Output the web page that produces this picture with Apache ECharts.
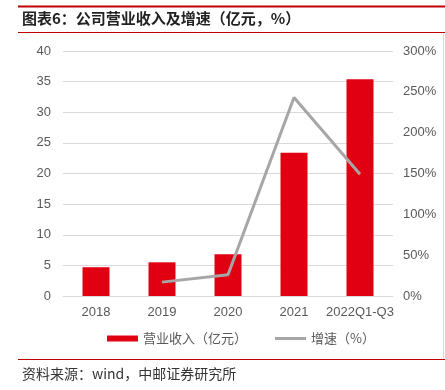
<!DOCTYPE html>
<html><head><meta charset="utf-8">
<script src="https://cdn.jsdelivr.net/npm/echarts@6/dist/echarts.min.js"></script>
<style>html,body{margin:0;padding:0;background:#fff}#c{width:445px;height:390px}</style>
</head><body><div id="c"></div>
<script>
const categories = ['2018','2019','2020','2021','2022Q1-Q3'];
const revenue = [4.7, 5.5, 6.8, 23.4, 35.4];
const growth = [null, 17, 26, 243, 149];
const leftTicks = [0, 40, 5];
const rightTicks = [0, 300, 50];

const chart = echarts.init(document.getElementById('c'), null, {renderer:'canvas'});
const txt = '#595959';
const lab = {color: txt, fontSize: 13, fontFamily: 'Liberation Sans, Arial, sans-serif'};
chart.setOption({
  animation: false,
  backgroundColor: '#fff',
  textStyle: {fontFamily: 'Liberation Sans, Noto Sans CJK SC, sans-serif'},
  graphic: [
    {type:'line', shape:{x1:18,y1:6.5,x2:445,y2:6.5}, style:{stroke:'#c00000', lineWidth:2}},
    {type:'text', left:22, top:11, style:{text:'图表6：公司营业收入及增速（亿元，%）', font:'bold 15px "Noto Sans CJK SC", sans-serif', fill:'#222'}},
    {type:'line', shape:{x1:18,y1:32.5,x2:445,y2:32.5}, style:{stroke:'#c00000', lineWidth:1}},
    {type:'line', shape:{x1:443.5,y1:33,x2:443.5,y2:359}, style:{stroke:'#d9d9d9', lineWidth:1}},
    {type:'line', shape:{x1:18,y1:359.5,x2:445,y2:359.5}, style:{stroke:'#c00000', lineWidth:1}},
    {type:'text', left:22, top:367, style:{text:'资料来源：wind，中邮证券研究所', font:'14px "Noto Sans CJK SC", sans-serif', fill:'#333'}}
  ],
  grid: {left:63, right:52, top:51, bottom:94},
  legend: {
    left: 102, top: 327,
    itemWidth: 31, itemHeight: 6, itemGap: 28,
    textStyle: {color: txt, fontSize: 13, fontFamily: 'Noto Sans CJK SC, sans-serif'},
    data: [
      {name:'营业收入（亿元）', icon:'rect'},
      {name:'增速（%）', icon:'path://M0,0 L31,0 L31,3 L0,3 Z'}
    ]
  },
  xAxis: {
    type:'category', data: categories,
    axisLine:{lineStyle:{color:'#d9d9d9', width:1}},
    axisTick:{show:false},
    axisLabel: Object.assign({margin:10, interval:0}, lab)
  },
  yAxis: [
    {type:'value', min:leftTicks[0], max:leftTicks[1], interval:leftTicks[2],
     axisLine:{show:false}, axisTick:{show:false},
     splitLine:{lineStyle:{color:'#d9d9d9', width:1}},
     axisLabel: Object.assign({margin:12}, lab)},
    {type:'value', min:rightTicks[0], max:rightTicks[1], interval:rightTicks[2],
     axisLine:{show:false}, axisTick:{show:false}, splitLine:{show:false},
     axisLabel: Object.assign({margin:10, formatter:'{value}%'}, lab)}
  ],
  series: [
    {name:'营业收入（亿元）', type:'bar', data: revenue, barWidth:27,
     itemStyle:{color:'#e10012'}},
    {name:'增速（%）', type:'line', yAxisIndex:1, data: growth, showSymbol:false, symbol:'none',
     lineStyle:{color:'#a6a6a6', width:3}, itemStyle:{color:'#a6a6a6'}}
  ]
});
</script></body></html>
